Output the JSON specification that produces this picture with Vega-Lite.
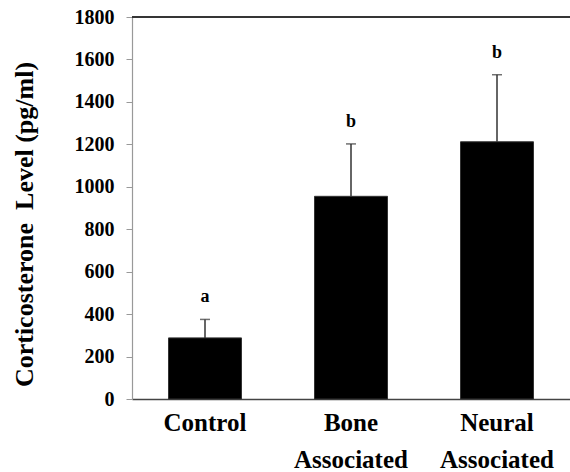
{
  "$schema": "https://vega.github.io/schema/vega-lite/v6.json",
  "width": 438,
  "height": 382,
  "autosize": {"type": "none"},
  "padding": {"left": 132, "top": 17, "right": 0, "bottom": 73},
  "background": "white",
  "config": {
    "font": "Liberation Serif",
    "view": {"stroke": null},
    "axis": {"labelFont": "Liberation Serif", "titleFont": "Liberation Serif", "labelFontWeight": "bold", "titleFontWeight": "bold", "labelColor": "black", "titleColor": "black", "grid": false}
  },
  "data": {
    "values": [
      {"group": "Control", "mean": 288, "err": 87, "letter": "a"},
      {"group": "Bone Associated", "mean": 955, "err": 247, "letter": "b"},
      {"group": "Neural Associated", "mean": 1212, "err": 316, "letter": "b"}
    ]
  },
  "transform": [{"calculate": "datum.mean + datum.err", "as": "upper"}],
  "layer": [
    {
      "mark": {"type": "bar", "color": "black", "stroke": "#333", "strokeWidth": 1},
      "encoding": {
        "x": {
          "field": "group",
          "type": "nominal",
          "sort": null,
          "scale": {"paddingInner": 0.5, "paddingOuter": 0.25},
          "axis": {
            "title": null,
            "labelAngle": 0,
            "labelFontSize": 25,
            "labelExpr": "split(datum.label, ' ')",
            "labelLineHeight": 37,
            "labelPadding": 11,
            "ticks": false,
            "domainColor": "#444",
            "domainWidth": 1.5
          }
        },
        "y": {
          "field": "mean",
          "type": "quantitative",
          "scale": {"domain": [0, 1800], "nice": false},
          "axis": {
            "title": "Corticosterone\u00a0\u00a0Level (pg/ml)",
            "titleFontSize": 26,
            "titleX": -95,
            "titleY": 207,
            "titleBaseline": "bottom",
            "format": "d",
            "values": [0, 200, 400, 600, 800, 1000, 1200, 1400, 1600, 1800],
            "labelFontSize": 20,
            "labelPadding": 12,
            "tickSize": 6,
            "tickColor": "#999",
            "domainColor": "#999",
            "domainWidth": 1.2
          }
        }
      }
    },
    {
      "mark": {"type": "rule", "color": "#333", "strokeWidth": 1.5},
      "encoding": {
        "x": {"field": "group", "type": "nominal", "sort": null},
        "y": {"field": "mean", "type": "quantitative"},
        "y2": {"field": "upper"}
      }
    },
    {
      "mark": {"type": "tick", "color": "#333", "thickness": 1.5, "size": 10},
      "encoding": {
        "x": {"field": "group", "type": "nominal", "sort": null},
        "y": {"field": "upper", "type": "quantitative"}
      }
    },
    {
      "mark": {"type": "text", "fontWeight": "bold", "fontSize": 18, "dy": -22, "baseline": "middle", "font": "Liberation Serif", "color": "black"},
      "encoding": {
        "x": {"field": "group", "type": "nominal", "sort": null},
        "y": {"field": "upper", "type": "quantitative"},
        "text": {"field": "letter"}
      }
    },
    {
      "mark": {"type": "rule", "color": "#333", "strokeWidth": 1.5},
      "encoding": {
        "y": {"datum": 1800}
      }
    }
  ]
}
